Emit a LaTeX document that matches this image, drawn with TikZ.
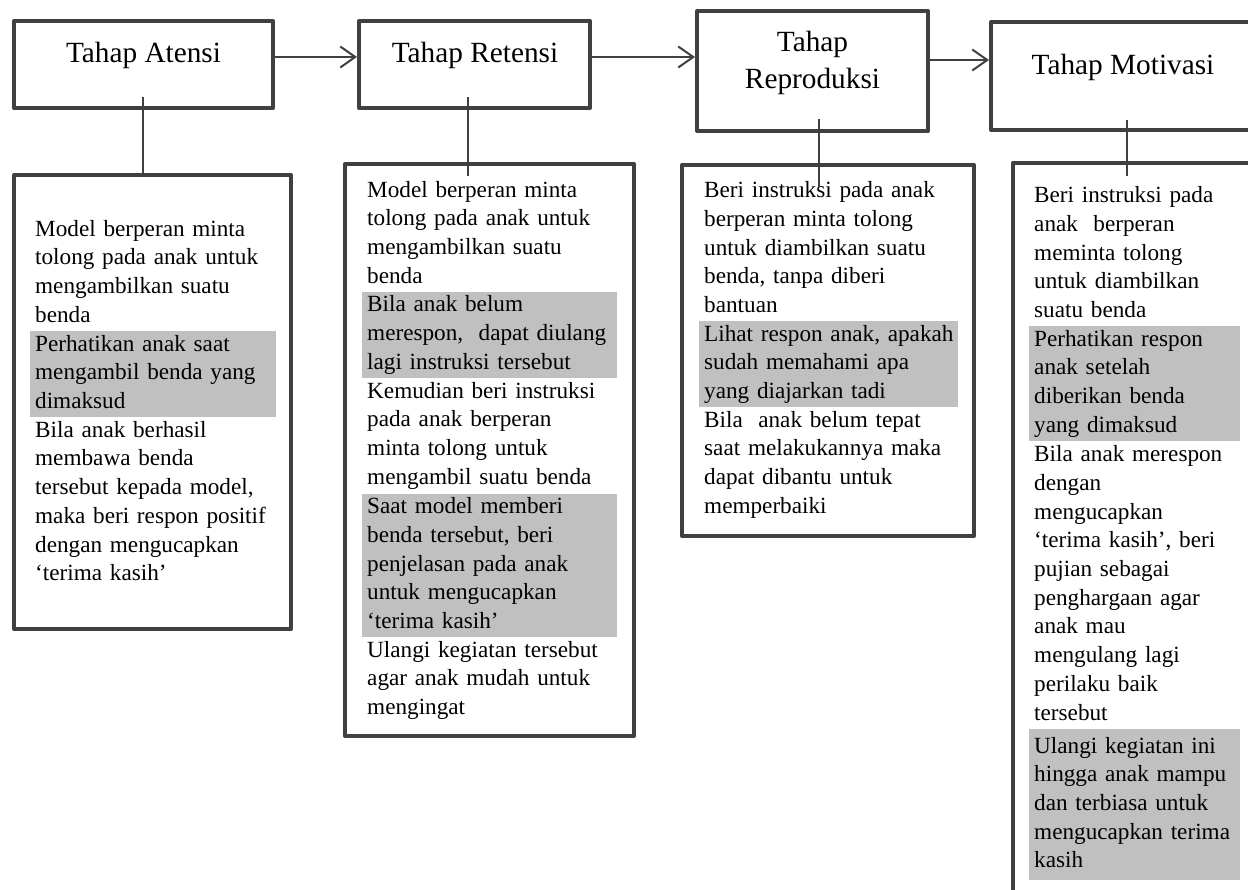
\documentclass[tikz,border=0pt]{standalone}
\usepackage{fontspec}
\setmainfont{Liberation Serif}
\usetikzlibrary{arrows.meta}
\definecolor{framegray}{HTML}{404040}
\definecolor{hilite}{HTML}{C0C0C0}
\newcommand\txtbody{\fontsize{23.2}{28.7}\selectfont}
\newcommand\txthead{\fontsize{29.3}{37}\selectfont}

\begin{document}
\begin{tikzpicture}[x=1pt,y=-1pt,
  stagebox/.style={draw=framegray, line width=4pt, line join=round, rectangle,
    inner sep=0pt, anchor=north west},
  notebox/.style={stagebox},
  headtext/.style={font=\txthead, inner sep=0pt, align=center},
  para/.style={anchor=north west, inner xsep=5pt, inner ysep=0pt, align=left,
    font=\txtbody},
  hl/.style={para, fill=hilite},
  flow/.style={draw=framegray, line width=2pt,
    -{Straight Barb[length=15pt, width=21pt, line width=2pt]}},
  link/.style={draw=framegray, line width=1.3pt}]

\useasboundingbox (0,0) rectangle (1248,890);
\fill[white] (0,0) rectangle (1248,890);
\clip (0,0) rectangle (1248,890);

% stage headers
\node[stagebox, minimum width=259, minimum height=87]  (hA) at (12,19) {};
\node[stagebox, minimum width=231, minimum height=87]  (hB) at (357,19) {};
\node[stagebox, minimum width=231, minimum height=120] (hC) at (695,9) {};
\node[stagebox, minimum width=265, minimum height=108] (hD) at (989,20) {};

\node[headtext, anchor=base] (tA) at (143.5,63) {Tahap Atensi};
\node[headtext, anchor=base] (tB) at (475,63) {Tahap Retensi};
\node[headtext] (tC) at (812.5,63) {Tahap\\Reproduksi};
\node[headtext, anchor=base] (tD) at (1123,75) {Tahap Motivasi};

% flow between stages
\draw[flow] (hA.east |- 0,57) -- (hB.west |- 0,57);
\draw[flow] (hB.east |- 0,57) -- (hC.west |- 0,57);
\draw[flow] (hC.east |- 0,60) -- (hD.west |- 0,60);

% detail boxes
\node[notebox, minimum width=277, minimum height=454] (bA) at (12,173) {};
\node[notebox, minimum width=289, minimum height=572] (bB) at (343,162) {};
\node[notebox, minimum width=292, minimum height=371] (bC) at (680,163) {};
\node[notebox, minimum width=255, minimum height=760] (bD) at (1011,161) {};

% Atensi
\node[para, text width=236] (a1) at (30,216) {\strut Model berperan minta\\tolong pada anak untuk\\mengambilkan suatu\\benda\strut};
\node[hl, text width=236] (a2) at (30,331) {\strut Perhatikan anak saat\\mengambil benda yang\\dimaksud\strut};
\node[para, text width=236] (a3) at (30,417) {\strut Bila anak berhasil\\membawa benda\\tersebut kepada model,\\\mbox{maka beri respon positif}\\dengan mengucapkan\\‘terima kasih’\strut};

% Retensi
\node[para, text width=245] (r1) at (362,177) {\strut Model berperan minta\\tolong pada anak untuk\\mengambilkan suatu\\benda\strut};
\node[hl, text width=245] (r2) at (362,291.7) {\strut Bila anak belum\\\mbox{merespon,\ \ dapat diulang}\\lagi instruksi tersebut\strut};
\node[para, text width=245] (r3) at (362,378) {\strut \mbox{Kemudian beri instruksi}\\pada anak berperan\\minta tolong untuk\\mengambil suatu benda\strut};
\node[hl, text width=245] (r4) at (362,493.6) {\strut Saat model memberi\\benda tersebut, beri\\penjelasan pada anak\\untuk mengucapkan\\‘terima kasih’\strut};
\node[para, text width=245] (r5) at (362,637) {\strut \mbox{Ulangi kegiatan tersebut}\\agar anak mudah untuk\\mengingat\strut};

% Reproduksi
\node[para, text width=249] (p1) at (699,177.5) {\strut \mbox{Beri instruksi pada anak}\\berperan minta tolong\\untuk diambilkan suatu\\benda, tanpa diberi\\bantuan\strut};
\node[hl, text width=249] (p2) at (699,321) {\strut \mbox{Lihat respon anak, apakah}\\sudah memahami apa\\yang diajarkan tadi\strut};
\node[para, text width=249] (p3) at (699,407) {\strut Bila\ \ anak belum tepat\\\mbox{saat melakukannya maka}\\dapat dibantu untuk\\memperbaiki\strut};

% Motivasi
\node[para, text width=201] (m1) at (1029,182.5) {\strut Beri instruksi pada\\anak\ \ berperan\\meminta tolong\\untuk diambilkan\\suatu benda\strut};
\node[hl, text width=201] (m2) at (1029,326) {\strut Perhatikan respon\\anak setelah\\diberikan benda\\yang dimaksud\strut};
\node[para, text width=201] (m3) at (1029,441.5) {\strut Bila anak merespon\\dengan\\mengucapkan\\‘terima kasih’, beri\\pujian sebagai\\penghargaan agar\\anak mau\\mengulang lagi\\perilaku baik\\tersebut\strut};
\node[hl, text width=201, minimum height=151] (m4) at (1029,729) {\strut Ulangi kegiatan ini\\hingga anak mampu\\dan terbiasa untuk\\\mbox{mengucapkan terima}\\kasih\strut};

% links from each stage to its details
\coordinate (kA1) at (143,97);  \coordinate (kA2) at (143,173);
\coordinate (kB1) at (468,97);  \coordinate (kB2) at (468,176);
\coordinate (kC1) at (819,119); \coordinate (kC2) at (819,187);
\coordinate (kD1) at (1127,120); \coordinate (kD2) at (1127,176);
\draw[link] (kA1) -- (kA2);
\draw[link] (kB1) -- (kB2);
\draw[link] (kC1) -- (kC2);
\draw[link] (kD1) -- (kD2);
\end{tikzpicture}
\end{document}
